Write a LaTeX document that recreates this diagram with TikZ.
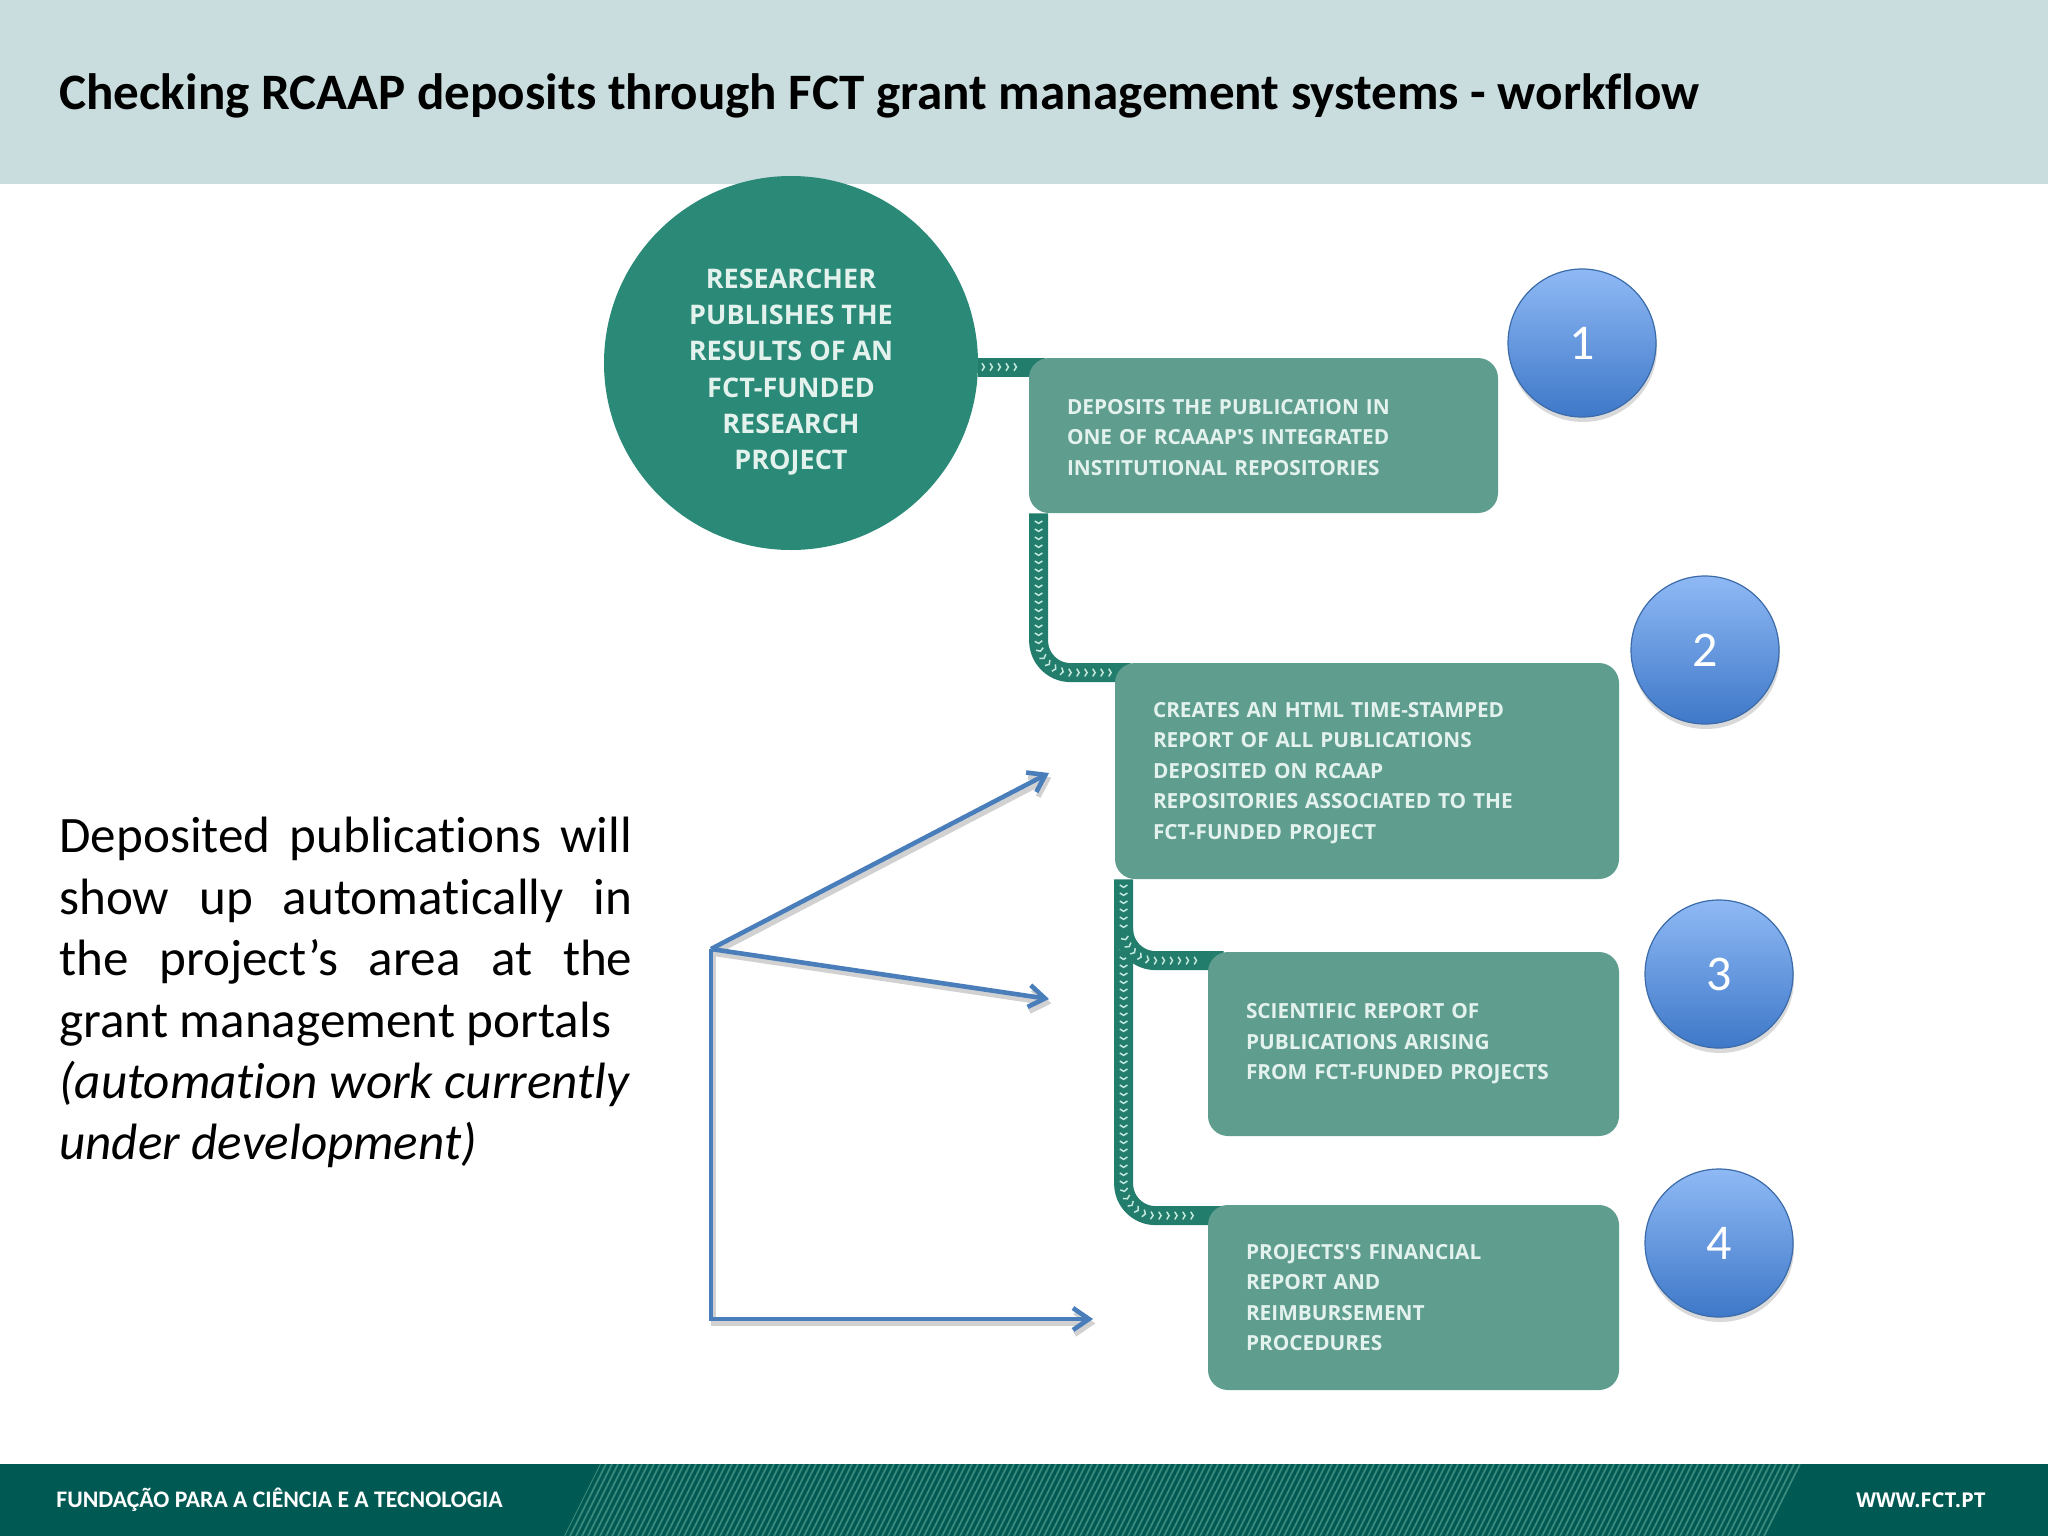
\documentclass[tikz,border=0pt]{standalone}
\usepackage{fontspec}
\setmainfont{Carlito}[Ligatures=NoCommon]
\newfontfamily\opensans{Open Sans}
\usepackage{tikz}
\usetikzlibrary{arrows.meta,calc,shadows,backgrounds,decorations.markings}
\definecolor{headbar}{RGB}{201,221,222}
\definecolor{footbar}{RGB}{0,90,83}
\definecolor{hatchline}{RGB}{58,138,124}
\definecolor{pubgreen}{RGB}{42,138,119}
\definecolor{boxgreen}{RGB}{95,157,143}
\definecolor{railgreen}{RGB}{35,125,108}
\definecolor{chevron}{RGB}{195,232,222}
\definecolor{boxtext}{RGB}{228,242,238}
\definecolor{arrowblue}{RGB}{74,126,187}
\definecolor{numtop}{RGB}{143,185,245}
\definecolor{numbottom}{RGB}{62,120,200}
\definecolor{numedge}{RGB}{59,107,168}
\tikzset{
	wfbox/.style={fill=boxgreen, rounded corners=10pt, inner xsep=19pt, inner ysep=0pt, align=left, text=boxtext, font=\opensans\bfseries\fontsize{10.4}{15.25}\selectfont},
	wfdown/.style={execute at begin node={\rule{0pt}{9.5pt}}},
	stepnum/.style={circle, minimum size=74pt, inner sep=0pt, top color=numtop, bottom color=numbottom, draw=numedge, line width=0.6pt, text=white, font=\fontsize{25}{30}\selectfont, drop shadow={shadow xshift=0.5pt, shadow yshift=-2.5pt, opacity=0.3}},
	wfrail/.style={draw=railgreen, line width=9.5pt, rounded corners=16pt, postaction={decorate}, decoration={markings, mark=between positions #1 step 4pt with {\draw[chevron, line width=0.75pt, rounded corners=0pt] (-1.2pt,1.9pt) -- (0pt,0pt) -- (-1.2pt,-1.9pt);}}},
	wfarrow/.style={draw=arrowblue, line width=2.3pt, -{Straight Barb[length=8pt,width=11pt]}, preaction={draw=black!18, line width=2.6pt, transform canvas={xshift=1.2pt,yshift=-2.2pt}}}
}
\begin{document}
\begin{tikzpicture}[x=0.5pt,y=-0.5pt]
	\useasboundingbox (0,0) rectangle (2048,1536);
	\fill[headbar] (0,0) rectangle (2048,184);
	\fill[footbar] (0,1464) rectangle (2048,1536);
	\begin{scope}
		\clip (600,1464) -- (1801,1464) -- (1767,1536) -- (564,1536) -- cycle;
		\foreach \hx in {600,606,...,1840}
			\draw[hatchline, line width=0.9pt] (\hx,1464) -- (\hx-36,1536);
	\end{scope}
	\node[anchor=base west, inner sep=0pt, font=\bfseries\fontsize{25.55}{30}\selectfont] (title) at (59,110) {Checking RCAAP deposits through FCT grant management systems - workflow};
	\node[anchor=base west, inner sep=0pt, text=white, font=\bfseries\fontsize{11.85}{13}\selectfont] (fctname) at (56,1507) {FUNDAÇÃO PARA A CIÊNCIA E A TECNOLOGIA};
	\node[anchor=base west, inner sep=0pt, text=white, font=\opensans\bfseries\fontsize{10.2}{12}\selectfont] (fctweb) at (1856,1507) {WWW.FCT.PT};
	\node[circle, fill=pubgreen, minimum size=187pt, inner sep=0pt] (pub) at (791,363) {};
	\node[inner sep=0pt, align=center, text=boxtext, font=\opensans\bfseries\fontsize{13.5}{18.15}\selectfont] (pubtext) at (791,372) {RESEARCHER\\PUBLISHES THE\\RESULTS OF AN\\FCT-FUNDED\\RESEARCH\\PROJECT};
	\node[wfbox, wfdown, minimum width=234.5pt, minimum height=77.5pt, text width=196.5pt] (wfa) at (1263.5,435.5) {DEPOSITS THE PUBLICATION IN\\ONE OF RCAAAP'S INTEGRATED\\INSTITUTIONAL REPOSITORIES};
	\node[wfbox, wfdown, minimum width=252pt, minimum height=108pt, text width=214pt] (wfb) at (1367,771) {CREATES AN HTML TIME-STAMPED\\REPORT OF ALL PUBLICATIONS\\DEPOSITED ON RCAAP\\REPOSITORIES ASSOCIATED TO THE\\FCT-FUNDED PROJECT};
	\node[wfbox, minimum width=205.5pt, minimum height=92pt, text width=167.5pt] (wfc) at (1413.5,1044) {SCIENTIFIC REPORT OF\\PUBLICATIONS ARISING\\FROM FCT-FUNDED PROJECTS};
	\node[wfbox, minimum width=205.5pt, minimum height=92.5pt, text width=167.5pt] (wfd) at (1413.5,1297.5) {PROJECTS'S FINANCIAL\\REPORT AND\\REIMBURSEMENT\\PROCEDURES};
	\node[stepnum] (numa) at (1582,343) {1};
	\node[stepnum] (numb) at (1705,650) {2};
	\node[stepnum] (numc) at (1719,974) {3};
	\node[stepnum] (numd) at (1719,1243) {4};
	\begin{pgfonlayer}{background}
		\path[wfrail={3pt and -12pt}] ([yshift=-2pt]pub.east) -- ([xshift=8pt,yshift=-2pt]pub.east -| wfa.west);
		\path[wfrail={5pt and -9pt}] ([xshift=5pt]wfa.south west) |- ([xshift=8pt,yshift=-5pt]wfb.north west);
		\path[wfrail={4pt and -12pt}] ([xshift=4.5pt]wfb.south west) |- ([xshift=8pt,yshift=-5.5pt]wfd.north west);
		\path[wfrail={6pt and -12pt}] ([xshift=4.5pt,yshift=-25pt]wfb.south west) |- ([xshift=8pt,yshift=-4.5pt]wfc.north west);
	\end{pgfonlayer}
	\node[anchor=north west, inner sep=0pt, text width=286.5pt, align=justify, font=\fontsize{25.55}{30.7}\selectfont] (note) at (59,817) {Deposited publications will\linebreak show up automatically in\linebreak the project’s area at the\linebreak grant management portals\par\itshape (automation work currently\par under development)};
	\coordinate (portal) at (711,949);
	\coordinate (tipa) at (1049,773);
	\coordinate (tipb) at (1049,999);
	\coordinate (tipc) at (1093,1319);
	\draw[wfarrow] (portal) -- (tipa);
	\draw[wfarrow] (portal) -- (tipb);
	\draw[wfarrow] (portal) |- (tipc);
\end{tikzpicture}
\end{document}
